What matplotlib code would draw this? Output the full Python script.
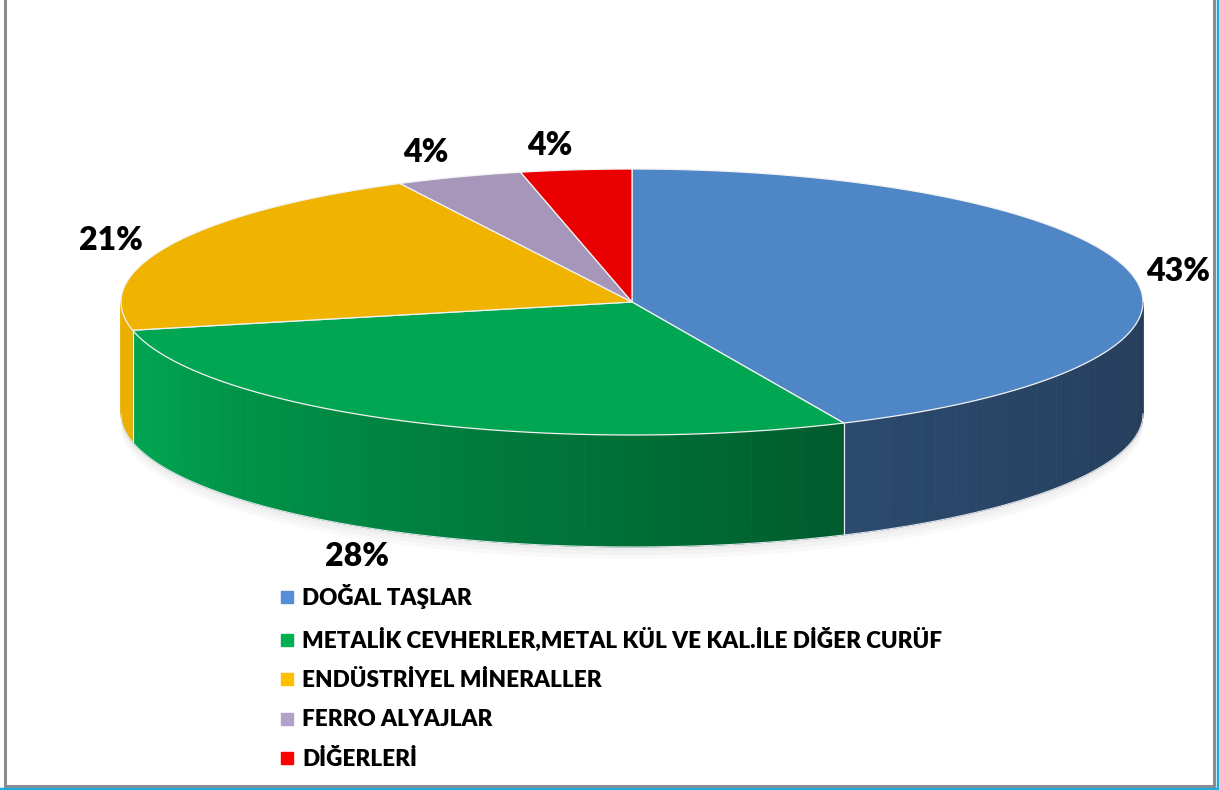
import numpy as np
import matplotlib
matplotlib.use("Agg")
import matplotlib.pyplot as plt
from matplotlib.patches import Polygon
from matplotlib.lines import Line2D

plt.rcParams['font.family'] = ['Lato', 'DejaVu Sans']

# datos
categorias = ['DOĞAL TAŞLAR',
              'METALİK CEVHERLER,METAL KÜL VE KAL.İLE DİĞER CURÜF',
              'ENDÜSTRİYEL MİNERALLER',
              'FERRO ALYAJLAR',
              'DİĞERLERİ']
valores = [43.2, 28.4, 20.9, 4.0, 3.5]
etiquetas = ['43%', '28%', '21%', '4%', '4%']
colores_cara = ['#4F86C6', '#00A651', '#EFB300', '#A596BA', '#EA0000']
colores_leyenda = ['#558ED5', '#00B050', '#FFC000', '#B3A2C7', '#FF0000']

# geometria (pixeles)
W, H = 1219, 790
cx, cy = 632, 302
a, b = 511, 133
prof = 112


def punto(t):
    r = np.radians(t)
    return cx + a * np.cos(r), cy - b * np.sin(r)


def sombra(t):
    t = t % 360
    if t < 200:
        return 0.98
    if t < 295:
        return 0.98 - 0.43 * (t - 200) / 95
    return 0.55 - 0.1 * (t - 295) / 65


fig = plt.figure(figsize=(W / 100, H / 100), dpi=100)
ax = fig.add_axes([0, 0, 1, 1])
ax.set_xlim(0, W)
ax.set_ylim(H, 0)
ax.axis('off')

total = sum(valores)
acum = 0
angulos = []
for v in valores:
    s = 90 - acum / total * 360
    acum += v
    e = 90 - acum / total * 360
    angulos.append((e, s))

# sombra suave bajo el pastel
for i in range(3):
    t = np.linspace(180, 360, 200)
    xs, ys = punto(t)
    off = 4 + 4 * i
    ax.fill(np.r_[xs, xs[::-1]], np.r_[ys + prof + off, ys[::-1] + prof - 20],
            color='black', alpha=0.025, lw=0)

# lados
for (e, s), col in zip(angulos, colores_cara):
    base = np.array(matplotlib.colors.to_rgb(col))
    for k in (-360, 0):
        lo, hi = max(e, 180 + k), min(s, 360 + k)
        if lo >= hi:
            continue
        pasos = np.linspace(lo, hi, max(2, int(hi - lo) + 2))
        for t0, t1 in zip(pasos[:-1], pasos[1:]):
            x0, y0 = punto(t0)
            x1, y1 = punto(t1)
            c = np.clip(base * sombra((t0 + t1) / 2), 0, 1)
            ax.add_patch(Polygon([(x0, y0), (x1, y1), (x1, y1 + prof), (x0, y0 + prof)],
                                 closed=True, facecolor=c, edgecolor=c, lw=0.6))
        for t in (lo, hi):
            x, y = punto(t)
            if t not in (-180, 0):
                ax.plot([x, x], [y, y + prof], color='#E8EEF5', lw=0.8)
t = np.linspace(180, 360, 200)
xs, ys = punto(t)
ax.plot(xs, ys + prof, color='#DDE3EA', lw=0.8)

# caras superiores
for (e, s), col in zip(angulos, colores_cara):
    t = np.linspace(e, s, 200)
    xs, ys = punto(t)
    pts = [(cx, cy)] + list(zip(xs, ys))
    ax.add_patch(Polygon(pts, closed=True, facecolor=col, edgecolor='#F2F2F2', lw=0.9))

# etiquetas
for (e, s), txt in zip(angulos, etiquetas):
    m = (e + s) / 2
    r = np.radians(m)
    c, sn = np.cos(r), np.sin(r)
    x, y = punto(m)
    if sn < 0:
        y += prof
    x += (15 if c > 0 else 30) * c
    y -= 10 * sn
    ha = 'left' if c > 0.1 else ('right' if c < -0.1 else 'center')
    va = 'bottom' if sn > 0.7 else ('top' if sn < -0.7 else 'center')
    ax.text(x, y, txt, ha=ha, va=va, fontsize=23, fontweight='heavy', color='black')

# leyenda
manejadores = [Line2D([0], [0], marker='s', linestyle='none', markersize=9,
                      markerfacecolor=c, markeredgecolor=c) for c in colores_leyenda]
leg = fig.legend(manejadores, categorias, loc='upper left',
                 bbox_to_anchor=(272 / W, 1 - 575 / H), frameon=False,
                 prop={'size': 16.2, 'weight': 'heavy'}, labelspacing=0.82,
                 handlelength=0.55, handletextpad=0.4, borderaxespad=0)

# marco
ax.plot([5, 5], [0, 786], color='#8C8C8C', lw=2.2)
ax.plot([5, 1214], [786, 786], color='#8C8C8C', lw=2.2)
ax.plot([1214, 1214], [0, 786], color='#8C8C8C', lw=2.2)
ax.plot([0, W], [789, 789], color='#19ACDF', lw=2.5)
ax.plot([1217.5, 1217.5], [0, H], color='#19ACDF', lw=2.5)

fig.savefig('out.png', dpi=100)
